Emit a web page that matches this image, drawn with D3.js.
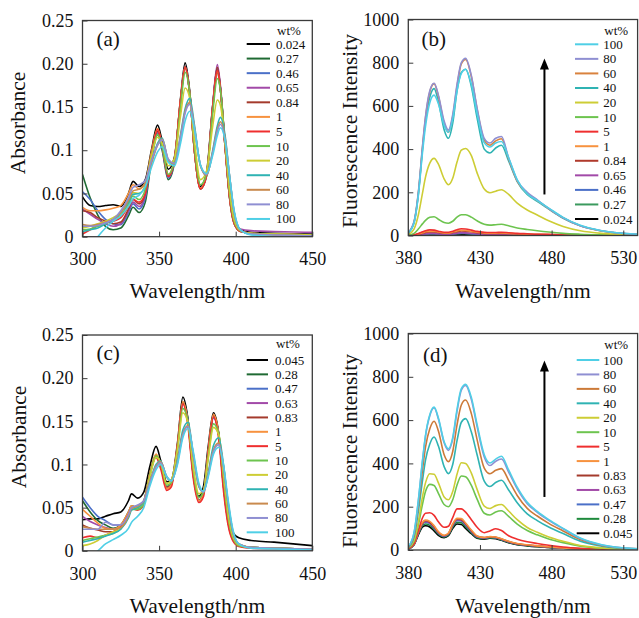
<!DOCTYPE html>
<html>
<head>
<meta charset="utf-8">
<script src="https://d3js.org/d3.v7.min.js"></script>
<style>
body { margin: 0; background: #fff; }
svg { display: block; }
</style>
</head>
<body>
<svg id="chart" width="639" height="618"></svg>
<script>
// wavelength grids (nm)
const wlA = [300, 305, 310, 315, 320, 325, 330, 333, 337, 341, 345, 349, 352, 356, 360, 364, 367, 370, 373, 377, 381, 385, 388, 390, 393, 396, 399, 403, 410, 425, 450];
const wlC = [300, 305, 310, 315, 320, 325, 330, 332, 336, 340, 344, 348, 351, 355, 358, 362, 365.5, 369, 372, 376, 379, 382, 385.5, 389, 392, 395, 398, 402, 410, 425, 450];
const wlF = [380, 384, 387, 390, 392, 395, 398, 401, 405, 408, 411, 414, 417, 420, 424, 428, 433, 437, 441, 445, 450, 456, 463, 470, 478, 488, 500, 515, 540];

// wt% labels
const wtA = ["0.024", "0.27", "0.46", "0.65", "0.84", "1", "5", "10", "20", "40", "60", "80", "100"];
const wtC = ["0.045", "0.28", "0.47", "0.63", "0.83", "1", "5", "10", "20", "40", "60", "80", "100"];

// tick labels
const absTicks = [0, 0.05, 0.1, 0.15, 0.2, 0.25];
const absTickLabels = ["0", "0.05", "0.1", "0.15", "0.20", "0.25"];
const flTicks = [0, 200, 400, 600, 800, 1000];
const flTickLabels = ["0", "200", "400", "600", "800", "1000"];
const absXTicks = [300, 350, 400, 450];
const flXTicks = [380, 430, 480, 530];

//(a) absorbance
const a_0024 = [.046,.036,.035,.036,.037,.035,.050,.064,.058,.066,.100,.129,.110,.078,.092,.160,.201,.168,.105,.058,.075,.152,.195,.172,.108,.048,.017,.008,.005,.004,.003];
const a_027  = [.072,.045,.025,.012,.008,.010,.024,.034,.028,.040,.088,.118,.100,.066,.085,.155,.195,.165,.100,.055,.070,.148,.190,.170,.105,.045,.015,.006,.004,.003,.002];
const a_046  = [.052,.043,.030,.020,.015,.014,.028,.038,.032,.045,.090,.120,.102,.068,.087,.157,.197,.166,.101,.056,.071,.150,.195,.172,.107,.046,.016,.007,.004,.003,.002];
const a_065  = [.032,.026,.020,.015,.012,.015,.030,.040,.035,.048,.093,.121,.103,.069,.088,.157,.196,.166,.101,.056,.072,.152,.199,.175,.108,.047,.017,.009,.007,.006,.005];
const a_084  = [.030,.028,.022,.018,.015,.017,.032,.043,.038,.050,.095,.122,.104,.070,.089,.158,.197,.166,.101,.056,.072,.151,.196,.173,.107,.046,.016,.007,.004,.003,.002];
const a_1    = [.034,.030,.030,.031,.033,.036,.050,.060,.055,.063,.098,.125,.106,.072,.090,.158,.196,.165,.100,.056,.072,.149,.191,.170,.106,.046,.016,.007,.004,.003,.002];
const a_5    = [.003,.008,.013,.016,.018,.022,.035,.043,.040,.050,.094,.124,.105,.070,.089,.158,.196,.165,.100,.055,.071,.149,.192,.170,.105,.045,.015,.006,.004,.003,.002];
const a_10   = [.008,.009,.012,.015,.020,.025,.038,.047,.043,.055,.093,.118,.104,.072,.088,.150,.190,.166,.105,.060,.073,.143,.183,.170,.110,.050,.018,.007,.004,.003,.002];
const a_20   = [.010,.012,.015,.018,.022,.028,.042,.051,.050,.060,.093,.115,.108,.082,.090,.140,.172,.160,.112,.066,.076,.128,.158,.152,.110,.055,.020,.007,.004,.003,.002];
const a_40   = [.006,.008,.010,.015,.020,.028,.040,.049,.050,.058,.085,.108,.114,.088,.083,.118,.148,.160,.130,.082,.071,.100,.128,.138,.118,.070,.028,.008,.003,.002,.001];
const a_60   = [.014,.013,.014,.017,.020,.028,.042,.053,.055,.062,.085,.106,.113,.089,.084,.116,.145,.155,.127,.082,.071,.098,.124,.133,.115,.070,.028,.008,.003,.002,.001];
const a_80   = [.012,.012,.013,.016,.020,.030,.045,.057,.060,.065,.088,.106,.112,.090,.085,.115,.143,.153,.126,.083,.072,.097,.122,.130,.113,.070,.029,.008,.003,.002,.001];
const a_100  = [-.020,-.012,.000,.010,.018,.024,.035,.044,.048,.058,.080,.098,.104,.086,.082,.108,.134,.145,.125,.083,.073,.094,.117,.126,.112,.070,.030,.008,.002,.000,-.002];

//(b) fluorescence
const b_0024 = [0,0,1,2,3,3,3,3,2,2,3,4,4,4,3,3,2,2,2,2,2,1,1,1,1,0,0,0,0];
const b_027  = [0,1,2,4,6,7,7,6,4,4,6,8,9,9,7,5,4,4,4,4,4,3,2,2,1,1,0,0,0];
const b_046  = [0,1,3,5,7,8,8,7,5,5,7,9,11,10,8,6,5,5,5,5,4,3,3,2,2,1,1,0,0];
const b_065  = [0,1,3,6,8,10,10,8,6,6,8,11,13,12,10,8,6,6,6,6,5,4,3,3,2,1,1,0,0];
const b_084  = [0,2,6,11,14,17,17,14,11,11,14,18,21,20,17,13,10,9,10,10,9,7,5,4,3,2,1,1,0];
const b_1    = [0,2,7,13,17,20,20,16,12,12,16,21,24,23,19,15,12,11,11,12,10,8,6,5,4,3,2,1,0];
const b_5    = [0,3,9,17,22,26,25,20,15,15,20,27,31,30,25,19,15,14,14,15,13,10,8,6,5,3,2,1,0];
const b_10   = [2,10,30,55,70,84,87,75,60,57,66,85,96,96,85,68,52,48,50,52,45,35,28,22,16,10,6,3,1];
const b_20   = [5,30,95,200,270,335,357,330,262,235,265,340,395,403,370,290,215,198,205,212,190,150,118,95,68,42,22,10,3];
const b_40   = [12,60,190,405,530,640,680,620,490,450,520,670,755,770,690,545,400,382,405,418,345,250,190,158,122,80,45,21,5];
const b_60   = [15,62,195,415,545,665,703,645,520,478,550,690,795,815,735,585,440,418,438,448,355,252,195,162,124,82,45,21,5];
const b_80   = [15,65,200,420,550,670,705,650,530,488,560,700,800,820,740,590,450,428,450,458,360,255,200,165,125,82,45,22,5];
const b_100  = [12,58,185,390,505,615,650,610,510,478,540,670,750,770,700,565,430,410,428,435,360,258,193,162,127,84,47,22,6];

//(c) absorbance
const c_0045 = [.036,.037,.037,.040,.043,.045,.058,.066,.061,.068,.098,.121,.105,.080,.082,.125,.178,.150,.095,.063,.075,.120,.160,.135,.080,.040,.022,.015,.012,.010,.006];
const c_028  = [.058,.045,.035,.030,.026,.030,.045,.052,.050,.058,.090,.110,.100,.074,.078,.120,.172,.150,.095,.059,.068,.112,.155,.135,.078,.035,.015,.006,.004,.003,.002];
const c_047  = [.062,.050,.040,.035,.030,.030,.044,.051,.049,.057,.088,.109,.099,.073,.078,.120,.170,.148,.093,.058,.068,.112,.154,.133,.076,.034,.014,.006,.004,.003,.002];
const c_063  = [.040,.034,.030,.027,.025,.028,.043,.051,.049,.056,.088,.110,.100,.073,.077,.121,.171,.147,.093,.058,.067,.113,.155,.133,.076,.034,.014,.006,.004,.003,.002];
const c_083  = [.030,.026,.024,.022,.022,.026,.042,.051,.049,.056,.089,.111,.100,.073,.077,.122,.172,.146,.092,.058,.066,.114,.157,.133,.076,.034,.014,.006,.004,.003,.002];
const c_1    = [.048,.040,.032,.026,.025,.030,.045,.052,.050,.057,.090,.112,.100,.072,.076,.123,.173,.146,.092,.058,.066,.115,.158,.133,.075,.033,.013,.006,.004,.003,.002];
const c_5    = [.015,.017,.015,.018,.022,.027,.042,.049,.047,.053,.088,.108,.095,.070,.074,.122,.170,.142,.088,.056,.063,.112,.155,.128,.070,.030,.012,.005,.003,.002,.001];
const c_10   = [.012,.014,.016,.018,.020,.026,.040,.048,.048,.054,.088,.110,.102,.076,.079,.118,.165,.148,.098,.062,.068,.108,.147,.135,.085,.040,.016,.006,.004,.003,.002];
const c_20   = [.006,.008,.012,.018,.022,.026,.040,.049,.050,.056,.086,.108,.103,.078,.082,.117,.160,.147,.102,.066,.070,.106,.143,.134,.090,.044,.018,.007,.004,.003,.002];
const c_40   = [.010,.012,.014,.017,.020,.025,.038,.047,.050,.056,.080,.100,.104,.085,.081,.105,.140,.149,.115,.074,.068,.090,.122,.131,.100,.055,.022,.008,.004,.003,.002];
const c_60   = [.028,.026,.025,.025,.025,.027,.040,.049,.052,.058,.080,.098,.103,.086,.081,.103,.136,.145,.115,.075,.068,.088,.117,.125,.098,.056,.024,.008,.004,.003,.002];
const c_80   = [.025,.025,.025,.033,.030,.030,.042,.050,.053,.058,.079,.097,.102,.086,.081,.102,.134,.144,.116,.076,.068,.087,.115,.123,.098,.057,.024,.008,.004,.003,.002];
const c_100  = [-.010,-.005,.000,.008,.013,.018,.026,.033,.040,.050,.075,.094,.100,.086,.081,.100,.131,.142,.118,.078,.069,.085,.112,.120,.100,.060,.026,.008,.003,.002,.001];

//(d) fluorescence
const d_0045 = [5,24,70,107,112,106,88,68,57,66,100,120,118,100,75,54,50,54,52,45,34,25,19,15,12,8,5,3,1];
const d_028  = [5,25,75,114,120,114,96,74,60,70,106,128,126,108,80,57,52,56,54,46,35,26,20,16,12,8,5,3,1];
const d_047  = [5,26,78,120,128,122,102,78,63,73,112,137,134,115,85,60,55,59,57,49,37,28,22,17,13,9,5,3,1];
const d_063  = [6,26,80,122,132,125,105,80,65,75,115,140,137,118,87,62,56,60,58,50,38,28,22,18,14,9,5,3,1];
const d_083  = [6,27,82,125,135,128,108,82,66,76,117,143,140,121,89,63,57,61,59,51,39,29,23,18,14,10,6,3,1];
const d_1    = [6,28,85,128,138,132,112,85,68,78,120,146,145,125,92,65,58,62,60,52,40,30,24,19,15,10,6,3,1];
const d_5    = [6,30,90,150,170,172,160,130,105,110,150,190,190,175,140,105,80,88,98,90,66,50,38,30,22,14,8,4,1];
const d_10   = [9,40,115,215,270,303,298,262,210,200,232,300,342,338,298,235,170,162,176,181,155,120,90,70,51,34,18,8,2];
const d_20   = [10,45,130,250,310,352,350,310,245,232,270,350,403,400,355,280,203,192,205,210,180,140,104,82,60,40,21,10,3];
const d_40   = [12,60,178,325,415,490,522,480,385,353,395,505,590,607,545,440,318,293,312,322,277,218,167,136,106,76,41,18,4];
const d_60   = [13,70,205,375,475,560,595,550,440,408,455,578,670,693,630,510,378,352,368,376,322,252,192,157,123,88,48,21,5];
const d_80   = [15,78,225,415,525,620,657,605,495,460,512,640,738,760,695,570,430,390,410,420,360,282,214,174,137,98,53,23,5];
const d_100  = [15,80,230,420,530,625,660,610,500,468,520,650,745,765,705,580,440,402,420,433,370,290,220,178,140,100,55,24,5];

// arrows (wavelength, from, to) in data units
const arrowB = [475, 190, 820];
const arrowD = [475, 245, 875];

//Colors (same order as the wt% labels)
const colorsA = ["#000000", "#1f6a33", "#4b70c8", "#a24aa8", "#a43a2c", "#f7923f", "#ef2f2f", "#6dc44f", "#cdcd35", "#2fb3b3", "#c98a4e", "#8f8fd2", "#4fcfe6"];
const colorsB = ["#000000", "#3b9a5e", "#4b70c8", "#a24aa8", "#b03a2c", "#f7923f", "#ef2f2f", "#6dc44f", "#cdcd35", "#2fb3b3", "#d9823e", "#8f8fd2", "#4fcfe6"];
const colorsD = ["#000000", "#1e8a3c", "#4b70c8", "#a24aa8", "#a43a2c", "#f7923f", "#ef2f2f", "#6dc44f", "#cdcd35", "#2fb3b3", "#cc7a38", "#8f8fd2", "#4fcfe6"];

const FONT = "'Liberation Serif', 'Times New Roman', serif";
const svg = d3.select("#chart").attr("font-family", FONT);

function drawPanel(p) {
    const x = d3.scaleLinear().domain(p.xDomain).range([p.left, p.right]);
    const y = d3.scaleLinear().domain([0, p.yMax]).range([p.bottom, p.top]);
    const g = svg.append("g").attr("id", p.id);

    //Clip
    g.append("clipPath").attr("id", p.id + "-clip")
        .append("rect")
        .attr("x", p.left).attr("y", p.top)
        .attr("width", p.right - p.left).attr("height", p.bottom - p.top);

    const series = p.labels.map((l, i) => ({label: l, color: p.colors[i], values: p.values[i]}));

    //Lines
    const line = d3.line()
        .x((d, i) => x(p.wl[i]))
        .y(d => y(d))
        .curve(d3.curveMonotoneX);
    g.append("g")
        .attr("clip-path", `url(#${p.id}-clip)`)
        .selectAll("path")
        .data(series)
        .join("path")
        .attr("d", d => line(d.values))
        .attr("fill", "none")
        .attr("stroke", d => d.color)
        .attr("stroke-width", 1.6)
        .attr("stroke-linejoin", "round");

    //Frame
    g.append("rect")
        .attr("x", p.left).attr("y", p.top)
        .attr("width", p.right - p.left).attr("height", p.bottom - p.top)
        .attr("fill", "none").attr("stroke", "#3a3a3a").attr("stroke-width", 1.3);

    //Axis
    const yAxis = d3.axisLeft(y)
        .tickValues(p.yTicks)
        .tickFormat((d, i) => p.yLabels[i])
        .tickSizeInner(-5).tickSizeOuter(0).tickPadding(9);
    g.append("g")
        .attr("transform", `translate(${p.left},0)`)
        .call(yAxis)
        .attr("font-family", FONT).attr("font-size", 18)
        .call(a => a.select(".domain").remove())
        .call(a => a.selectAll("line").attr("stroke", "#3a3a3a"))
        .call(a => a.selectAll("text").attr("fill", "#111"));
    const xAxis = d3.axisBottom(x)
        .tickValues(p.xTicks)
        .tickFormat(d3.format("d"))
        .tickSizeInner(-5).tickSizeOuter(0).tickPadding(16);
    g.append("g")
        .attr("transform", `translate(0,${p.bottom})`)
        .call(xAxis)
        .attr("font-family", FONT).attr("font-size", 18)
        .call(a => a.select(".domain").remove())
        .call(a => a.selectAll("line").attr("stroke", "#3a3a3a"))
        .call(a => a.selectAll("text").attr("fill", "#111"));

    //Titles
    g.append("text")
        .attr("x", (p.left + p.right) / 2).attr("y", p.xTitleY)
        .attr("text-anchor", "middle").attr("font-size", 21.5).attr("fill", "#111")
        .text("Wavelength/nm");
    g.append("text")
        .attr("transform", `translate(${p.yTitleX},${p.yTitleY}) rotate(-90)`)
        .attr("text-anchor", "middle").attr("font-size", 21.5).attr("fill", "#111")
        .text(p.yTitle);
    g.append("text")
        .attr("x", p.tagX).attr("y", p.tagY)
        .attr("font-size", 21).attr("fill", "#111")
        .text(p.tag);

    //Legend
    const lg = p.legend;
    const order = lg.reverse ? series.slice().reverse() : series;
    g.append("text")
        .attr("x", lg.tx + 1).attr("y", lg.ty + 4)
        .attr("font-size", 13).attr("fill", "#111")
        .text("wt%");
    const rows = g.append("g").selectAll("g")
        .data(order)
        .join("g")
        .attr("transform", (d, i) => `translate(0,${lg.y0 + i * lg.dy})`);
    rows.append("line")
        .attr("x1", lg.x0).attr("x2", lg.x1)
        .attr("stroke", d => d.color).attr("stroke-width", 2);
    rows.append("text")
        .attr("x", lg.tx).attr("y", 4.5)
        .attr("font-size", 13).attr("fill", "#111")
        .text(d => d.label);

    //Arrow
    if (p.arrow) {
        const ax = x(p.arrow[0]);
        const y0 = y(p.arrow[1]);
        const y1 = y(p.arrow[2]);
        g.append("line")
            .attr("x1", ax).attr("x2", ax).attr("y1", y0).attr("y2", y1 + 8)
            .attr("stroke", "#000").attr("stroke-width", 2);
        g.append("path")
            .attr("d", `M${ax},${y1} L${ax - 4.5},${y1 + 11} L${ax + 4.5},${y1 + 11} Z`)
            .attr("fill", "#000");
    }
}

drawPanel({
    id: "pa", wl: wlA, labels: wtA, colors: colorsA,
    values: [a_0024, a_027, a_046, a_065, a_084, a_1, a_5, a_10, a_20, a_40, a_60, a_80, a_100],
    xDomain: [300, 450], xTicks: absXTicks, yMax: 0.25, yTicks: absTicks, yLabels: absTickLabels,
    left: 82.5, right: 312.3, top: 20.5, bottom: 236.7,
    xTitleY: 298, yTitle: "Absorbance", yTitleX: 25, yTitleY: 123,
    tag: "(a)", tagX: 96.5, tagY: 46,
    legend: {x0: 246.7, x1: 270, tx: 276, y0: 44, dy: 14.58, ty: 30.7, reverse: false}
});
drawPanel({
    id: "pb", wl: wlF, labels: wtA, colors: colorsB,
    values: [b_0024, b_027, b_046, b_065, b_084, b_1, b_5, b_10, b_20, b_40, b_60, b_80, b_100],
    xDomain: [380, 540], xTicks: flXTicks, yMax: 1000, yTicks: flTicks, yLabels: flTickLabels,
    left: 408.3, right: 637.6, top: 19.5, bottom: 235.5,
    xTitleY: 298, yTitle: "Fluorescence Intensity", yTitleX: 357, yTitleY: 131,
    tag: "(b)", tagX: 421.5, tagY: 46,
    legend: {x0: 575, x1: 598.3, tx: 603.3, y0: 44.3, dy: 14.56, ty: 30.7, reverse: true},
    arrow: arrowB
});
drawPanel({
    id: "pc", wl: wlC, labels: wtC, colors: colorsA,
    values: [c_0045, c_028, c_047, c_063, c_083, c_1, c_5, c_10, c_20, c_40, c_60, c_80, c_100],
    xDomain: [300, 450], xTicks: absXTicks, yMax: 0.25, yTicks: absTicks, yLabels: absTickLabels,
    left: 82.5, right: 312.3, top: 335, bottom: 550.8,
    xTitleY: 612.5, yTitle: "Absorbance", yTitleX: 26, yTitleY: 437,
    tag: "(c)", tagX: 96.5, tagY: 360,
    legend: {x0: 246.7, x1: 268, tx: 275, y0: 360, dy: 14.36, ty: 344, reverse: false}
});
drawPanel({
    id: "pd", wl: wlF, labels: wtC, colors: colorsD,
    values: [d_0045, d_028, d_047, d_063, d_083, d_1, d_5, d_10, d_20, d_40, d_60, d_80, d_100],
    xDomain: [380, 540], xTicks: flXTicks, yMax: 1000, yTicks: flTicks, yLabels: flTickLabels,
    left: 408.3, right: 637.6, top: 333.5, bottom: 550,
    xTitleY: 612.5, yTitle: "Fluorescence Intensity", yTitleX: 357, yTitleY: 451,
    tag: "(d)", tagX: 423, tagY: 362,
    legend: {x0: 576.7, x1: 599.3, tx: 603.3, y0: 360, dy: 14.44, ty: 345, reverse: true},
    arrow: arrowD
});
</script>
</body>
</html>
